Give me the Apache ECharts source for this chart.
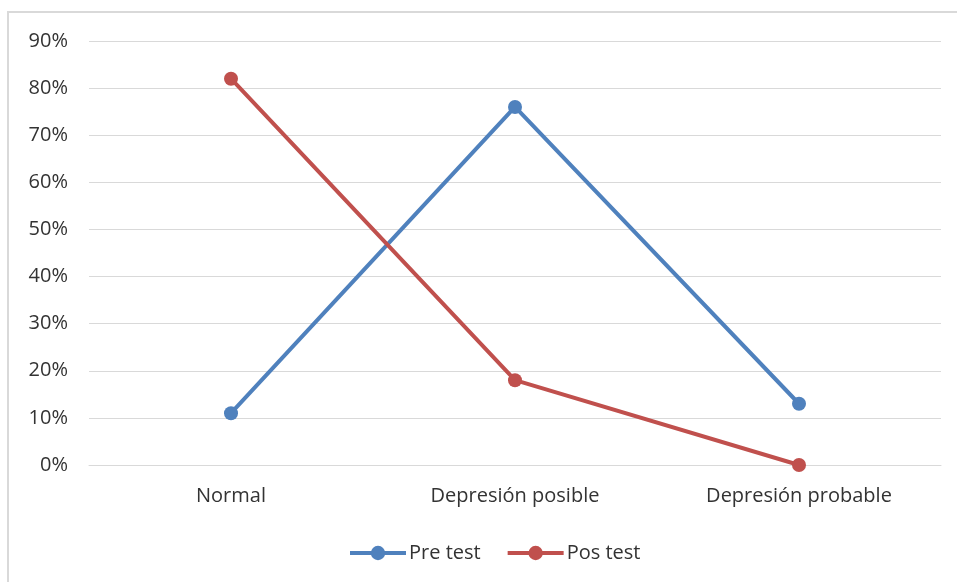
<!DOCTYPE html>
<html>
<head>
<meta charset="utf-8">
<script src="https://cdn.jsdelivr.net/npm/echarts@6/dist/echarts.min.js"></script>
<style>
html,body{margin:0;padding:0;background:#fff;}
#chart{width:957px;height:582px;}
</style>
</head>
<body>
<div id="chart"></div>
<script>
const categories = ["Normal", "Depresión posible", "Depresión probable"];
const preTest = [0.11, 0.76, 0.13];
const posTest = [0.82, 0.18, 0.00];
const seriesNames = ["Pre test", "Pos test"];

const chart = echarts.init(document.getElementById('chart'));
const font = "'Open Sans', 'Noto Sans', sans-serif";
chart.setOption({
  animation: false,
  backgroundColor: '#fff',
  graphic: [
    {type: 'line', shape: {x1: 7, y1: 12, x2: 957, y2: 12}, style: {stroke: '#d9d9d9', lineWidth: 2}},
    {type: 'line', shape: {x1: 8, y1: 12, x2: 8, y2: 582}, style: {stroke: '#d9d9d9', lineWidth: 2}}
  ],
  grid: {left: 89, right: 16, top: 41, bottom: 117, containLabel: false},
  legend: {
    data: seriesNames,
    top: 538,
    left: 343,
    itemWidth: 56,
    itemHeight: 18,
    itemGap: 25,
    lineStyle: {width: 4},
    textStyle: {fontFamily: font, fontSize: 20, color: '#333', padding: [0, 0, 0, -2]}
  },
  xAxis: {
    type: 'category',
    data: categories,
    boundaryGap: true,
    axisLine: {show: true, lineStyle: {color: '#d9d9d9', width: 1}},
    axisTick: {show: false},
    axisLabel: {fontFamily: font, fontSize: 20, color: '#333', margin: 21}
  },
  yAxis: {
    type: 'value',
    min: 0, max: 0.9, interval: 0.1,
    axisLine: {show: false},
    axisTick: {show: false},
    splitLine: {lineStyle: {color: '#d9d9d9', width: 1}},
    axisLabel: {
      fontFamily: font, fontSize: 20, color: '#333', margin: 21,
      formatter: v => Math.round(v * 100) + '%'
    }
  },
  series: [
    {
      name: seriesNames[0], type: 'line', data: preTest,
      symbol: 'circle', symbolSize: 14,
      lineStyle: {color: '#4F81BD', width: 4},
      itemStyle: {color: '#4F81BD'}
    },
    {
      name: seriesNames[1], type: 'line', data: posTest,
      symbol: 'circle', symbolSize: 14,
      lineStyle: {color: '#C0504D', width: 4},
      itemStyle: {color: '#C0504D'}
    }
  ]
});
</script>
</body>
</html>
